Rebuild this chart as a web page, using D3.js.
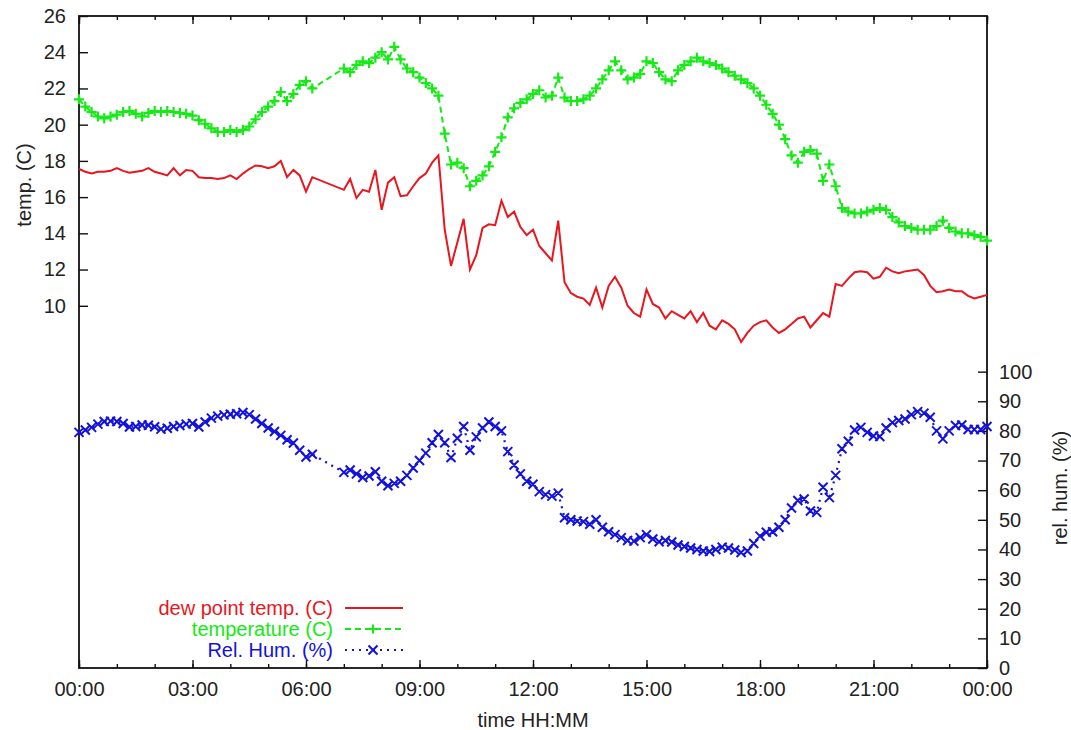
<!DOCTYPE html>
<html>
<head>
<meta charset="utf-8">
<script src="https://cdn.jsdelivr.net/npm/d3@7/dist/d3.min.js"></script>
<style>
  body { margin: 0; background: #fff; }
  text { font-family: "Liberation Sans", Arial, sans-serif; }
</style>
</head>
<body>
<svg id="chart" width="1071" height="730"></svg>
<script>
// samples every 10 minutes, 00:00 .. 24:00 (null = no reading)
const sampleMinutes = 10;

const tempC = [
  21.4, 21.0, 20.7, 20.45, 20.35, 20.45,
  20.55, 20.7, 20.75, 20.6, 20.45, 20.65,
  20.75, 20.7, 20.75, 20.7, 20.65, 20.6,
  20.5, 20.25, 20.05, 19.8, 19.6, 19.6,
  19.7, 19.6, 19.7, 19.9, 20.3, 20.7,
  21.0, 21.3, 21.8, 21.3, 21.7, 22.2,
  22.4, 22.0, null, null, null, null,
  23.1, 22.9, 23.3, 23.5, 23.4, 23.7,
  24.0, 23.6, 24.3, 23.6, 23.1, 22.9,
  22.6, 22.3, 22.0, 21.6, 19.5, 17.8,
  17.9, 17.6, 16.6, 16.9, 17.2, 17.7,
  18.5, 19.3, 20.4, 20.9, 21.2, 21.4,
  21.7, 21.9, 21.5, 21.6, 22.6, 21.5,
  21.3, 21.3, 21.4, 21.6, 22.0, 22.5,
  23.0, 23.5, 23.0, 22.5, 22.6, 22.8,
  23.5, 23.4, 22.9, 22.5, 22.4, 23.0,
  23.3, 23.5, 23.7, 23.5, 23.4, 23.3,
  23.1, 22.9, 22.7, 22.5, 22.3, 22.0,
  21.6, 21.1, 20.6, 20.0, 19.2, 18.3,
  17.9, 18.5, 18.6, 18.4, 16.9, 17.8,
  16.6, 15.4, 15.2, 15.1, 15.1, 15.2,
  15.3, 15.4, 15.3, 14.9, 14.6, 14.4,
  14.3, 14.2, 14.2, 14.2, 14.4, 14.7,
  14.3, 14.1, 14.0, 14.0, 13.9, 13.8,
  13.6
];

const dewPointC = [
  17.55, 17.4, 17.3, 17.4, 17.4, 17.45,
  17.6, 17.45, 17.35, 17.4, 17.45, 17.6,
  17.4, 17.3, 17.2, 17.6, 17.2, 17.5,
  17.45, 17.1, 17.05, 17.05, 17.0, 17.05,
  17.2, 17.0, 17.3, 17.55, 17.75, 17.7,
  17.6, 17.7, 18.0, 17.1, 17.5, 17.2,
  16.3, 17.1, null, null, null, null,
  16.4, 17.0, 15.95, 16.4, 16.3, 17.5,
  15.3, 16.8, 17.1, 16.05, 16.1, 16.6,
  17.05, 17.3, 17.9, 18.3, 14.2, 12.2,
  13.5, 14.8, 12.0, 12.8, 14.3, 14.5,
  14.45, 15.8, 14.9, 15.2, 14.35, 13.9,
  14.2, 13.3, 12.9, 12.5, 14.7, 11.3,
  10.7, 10.5, 10.4, 10.05, 11.0, 9.9,
  11.1, 11.6, 11.0, 10.0, 9.6, 9.4,
  10.9, 10.1, 9.9, 9.3, 9.7, 9.5,
  9.3, 9.7, 9.1, 9.6, 8.9, 8.7,
  9.2, 9.0, 8.7, 8.0, 8.5, 8.9,
  9.1, 9.2, 8.8, 8.5, 8.7, 9.0,
  9.3, 9.4, 8.8, 9.2, 9.6, 9.4,
  11.2, 11.1, 11.5, 11.85, 11.9, 11.85,
  11.5, 11.6, 12.1, 11.9, 11.8, 11.9,
  11.95, 12.0, 11.7, 11.1, 10.75, 10.8,
  10.9, 10.8, 10.8, 10.55, 10.4, 10.5,
  10.6
];

const relHum = [
  79.5, 80.3, 81.2, 82.3, 83.2, 83.3,
  83.2, 82.5, 81.3, 81.5, 82.0, 81.9,
  81.4, 80.6, 80.9, 81.5, 81.8, 82.3,
  82.5, 81.3, 83.0, 84.3, 85.0, 85.4,
  85.6, 85.8, 86.2, 85.5, 84.0, 82.5,
  81.0, 79.8, 78.5, 77.0, 75.9, 73.5,
  71.2, 72.1, null, null, null, null,
  66.0, 66.8, 65.5, 64.3, 64.8, 66.2,
  63.0, 61.5, 62.3, 63.0, 65.0, 67.5,
  70.0, 72.5, 76.0, 78.8, 76.0, 71.0,
  77.5, 81.5, 73.5, 78.0, 81.0, 83.0,
  81.5, 80.0, 73.0, 68.5, 65.5, 63.0,
  62.0, 59.5, 58.5, 58.0, 59.0, 50.7,
  50.0, 49.6, 49.4, 48.5, 50.0, 47.5,
  46.0, 45.0, 44.0, 43.0, 42.8, 44.0,
  45.0, 43.5, 42.6, 43.0, 42.5, 41.5,
  41.0, 40.5, 40.0, 39.5, 39.3, 40.0,
  40.8, 40.5, 39.8, 39.0, 39.5, 42.0,
  44.5, 45.8, 46.0, 47.5, 50.0, 54.0,
  56.5, 57.0, 53.0, 52.5, 61.0, 57.5,
  65.0, 74.0, 76.5, 80.3, 81.2, 79.5,
  78.3, 78.1, 81.0, 82.8, 83.5, 84.0,
  85.5, 86.5, 86.0, 84.6, 80.0, 77.3,
  80.0, 81.8, 82.0, 80.5, 80.5, 80.5,
  81.5
];

const xTickHours = [0, 3, 6, 9, 12, 15, 18, 21, 24];
const xTickLabels = ["00:00", "03:00", "06:00", "09:00", "12:00", "15:00", "18:00", "21:00", "00:00"];
const tempTicks = [10, 12, 14, 16, 18, 20, 22, 24, 26];
const humTicks = [0, 10, 20, 30, 40, 50, 60, 70, 80, 90, 100];

const width = 1071, height = 730;
const margin = { top: 16, right: 84, bottom: 62, left: 79 };
const plotW = width - margin.left - margin.right;
const plotH = height - margin.top - margin.bottom;
const fontSize = 20;

const red = "#e8161e", green = "#14ea14", blue = "#1212dc";

const svg = d3.select("#chart");

const x = d3.scaleLinear().domain([0, 24]).range([margin.left, margin.left + plotW]);
const yT = d3.scaleLinear().domain([-10, 26]).range([margin.top + plotH, margin.top]);
const yH = d3.scaleLinear().domain([0, 220]).range([margin.top + plotH, margin.top]);

const hourOf = i => i * sampleMinutes / 60;
const pts = (arr) => arr.map((v, i) => ({ h: hourOf(i), v })).filter(d => d.v != null);

// axes
const minorHours = d3.range(0, 25);
const bottom = margin.top + plotH;

svg.append("g").attr("transform", `translate(0,${bottom})`)
  .call(d3.axisBottom(x).tickValues(minorHours).tickSize(-4).tickFormat(""));
svg.append("g").attr("transform", `translate(0,${bottom})`)
  .call(d3.axisBottom(x).tickValues(xTickHours).tickSize(-8).tickPadding(14)
    .tickFormat((d, i) => xTickLabels[i]));
svg.append("g").attr("transform", `translate(0,${margin.top})`)
  .call(d3.axisTop(x).tickValues(minorHours).tickSize(-4).tickFormat(""));
svg.append("g").attr("transform", `translate(0,${margin.top})`)
  .call(d3.axisTop(x).tickValues(xTickHours).tickSize(-8).tickFormat(""));
svg.append("g").attr("transform", `translate(${margin.left},0)`)
  .call(d3.axisLeft(yT).tickValues(tempTicks).tickSize(-9).tickPadding(13));
svg.append("g").attr("transform", `translate(${margin.left + plotW},0)`)
  .call(d3.axisRight(yH).tickValues(humTicks).tickSize(-9).tickPadding(12));

svg.selectAll(".domain").remove();
svg.selectAll(".tick line").attr("stroke", "#111").attr("stroke-width", 1.4);
svg.selectAll(".tick text").attr("font-size", fontSize).attr("fill", "#222");

svg.append("rect")
  .attr("x", margin.left).attr("y", margin.top)
  .attr("width", plotW).attr("height", plotH)
  .attr("fill", "none").attr("stroke", "#111").attr("stroke-width", 1.8);

// axis titles
svg.append("text").attr("transform", "translate(24,185) rotate(-90)")
  .attr("text-anchor", "middle").attr("dy", "0.35em")
  .attr("font-size", fontSize).attr("fill", "#222").text("temp. (C)");
svg.append("text").attr("transform", "translate(1060,488) rotate(-90)")
  .attr("text-anchor", "middle").attr("dy", "0.35em")
  .attr("font-size", fontSize).attr("fill", "#222").text("rel. hum. (%)");
svg.append("text").attr("x", x(12)).attr("y", 720)
  .attr("text-anchor", "middle").attr("dy", "0.35em")
  .attr("font-size", fontSize).attr("fill", "#222").text("time HH:MM");

// markers
const plusPath = (cx, cy, s) => `M${cx - s},${cy}H${cx + s}M${cx},${cy - s}V${cy + s}`;
const crossPath = (cx, cy, s) => `M${cx - s},${cy - s}L${cx + s},${cy + s}M${cx - s},${cy + s}L${cx + s},${cy - s}`;

// relative humidity: dotted line with x points
const humPts = pts(relHum);
svg.append("path")
  .attr("d", d3.line().x(d => x(d.h)).y(d => yH(d.v))(humPts))
  .attr("fill", "none").attr("stroke", blue).attr("stroke-width", 2.2)
  .attr("stroke-dasharray", "2,5");
svg.append("path")
  .attr("d", humPts.map(d => crossPath(x(d.h), yH(d.v), 4.5)).join(""))
  .attr("fill", "none").attr("stroke", blue).attr("stroke-width", 2);

// temperature: dashed line with + points
const tPts = pts(tempC);
svg.append("path")
  .attr("d", d3.line().x(d => x(d.h)).y(d => yT(d.v))(tPts))
  .attr("fill", "none").attr("stroke", green).attr("stroke-width", 2)
  .attr("stroke-dasharray", "6,4");
svg.append("path")
  .attr("d", tPts.map(d => plusPath(x(d.h), yT(d.v), 5)).join(""))
  .attr("fill", "none").attr("stroke", green).attr("stroke-width", 2.2);

// dew point: solid line
const dPts = pts(dewPointC);
svg.append("path")
  .attr("d", d3.line().x(d => x(d.h)).y(d => yT(d.v))(dPts))
  .attr("fill", "none").attr("stroke", red).attr("stroke-width", 2);

// legend
const legend = [
  { label: "dew point temp. (C)", color: red, dash: null, mark: null },
  { label: "temperature (C)", color: green, dash: "6,4", mark: plusPath },
  { label: "Rel. Hum. (%)", color: blue, dash: "2,5", mark: crossPath }
];
const lg = svg.append("g");
legend.forEach((d, i) => {
  const cy = 608 + i * 21;
  lg.append("text").attr("x", 333).attr("y", cy).attr("dy", "0.35em")
    .attr("text-anchor", "end").attr("font-size", fontSize).attr("fill", d.color).text(d.label);
  lg.append("line").attr("x1", 345).attr("x2", 403).attr("y1", cy).attr("y2", cy)
    .attr("stroke", d.color).attr("stroke-width", 2)
    .attr("stroke-dasharray", d.dash);
  if (d.mark) {
    lg.append("path").attr("d", d.mark(373, cy, 4.5))
      .attr("fill", "none").attr("stroke", d.color).attr("stroke-width", 2);
  }
});
</script>
</body>
</html>
